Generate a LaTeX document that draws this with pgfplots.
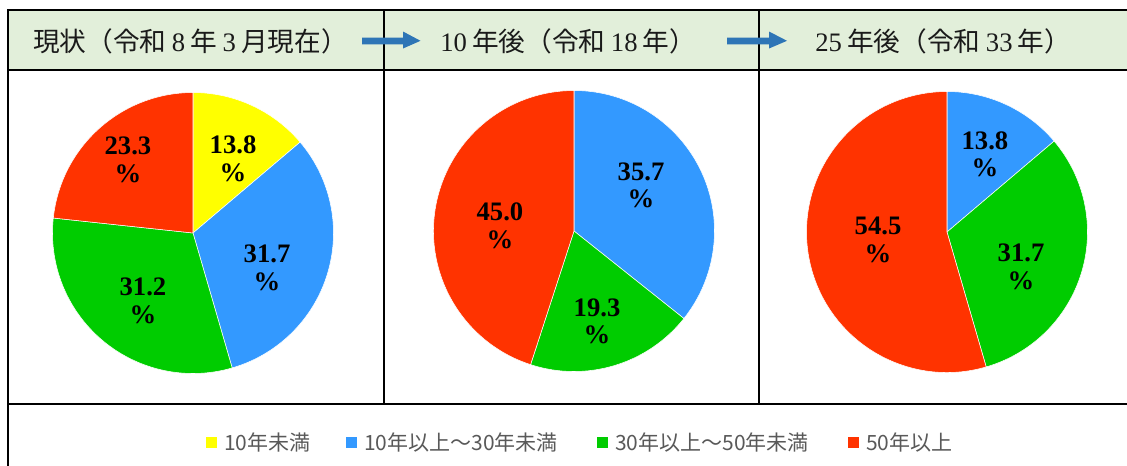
\documentclass[border=0pt]{standalone}
\usepackage{fontspec}
\usepackage{pgfplots}
\pgfplotsset{compat=1.18}
\newfontfamily\cjk{Noto Sans CJK JP}
\newfontfamily\ser{Liberation Serif}
\definecolor{cY}{HTML}{FFFF00}
\definecolor{cB}{HTML}{3399FF}
\definecolor{cG}{HTML}{00CC00}
\definecolor{cR}{HTML}{FF3300}
\definecolor{hdr}{HTML}{E2EFDA}
\definecolor{arr}{HTML}{2E75B6}
\definecolor{leg}{HTML}{595959}
\definecolor{htxt}{HTML}{1A1A1A}

\newlength\pieR \setlength\pieR{105.375pt}% 140.5 px
\tikzset{pielabel/.style={font=\ser\bfseries\fontsize{20}{20.5}\selectfont, align=center, inner sep=0pt, text=black}}
% value / colour / label x / label y
\newcommand\pieslices[1]{%
  \xdef\cumA{90}%
  \foreach \v/\c/\lx/\ly in {#1}{%
    \pgfmathsetmacro\endA{\cumA-3.6*\v}%
    \pgfmathsetmacro\xs{cos(\cumA)}%
    \pgfmathsetmacro\ys{sin(\cumA)}%
    \edef\temp{\noexpand\fill[\c, draw=white, line width=0.4pt] (axis cs:0,0) -- (axis cs:\xs,\ys) arc[start angle=\cumA, end angle=\endA, radius=\the\pieR] -- cycle;}%
    \temp
    \xdef\cumA{\endA}%
  }%
  \foreach \v/\c/\lx/\ly in {#1}{%
    \edef\temp{\noexpand\node[pielabel] at (axis cs:\lx,\ly) {\v\noexpand\\\noexpand\%};}%
    \temp
  }%
}
\pgfplotsset{pieaxis/.style={hide axis, x=\pieR, y=\pieR, xmin=-1.02, xmax=1.02, ymin=-1.02, ymax=1.02, anchor=center, clip=false, scale only axis}}

\begin{document}
\begin{tikzpicture}
\begin{scope}[x=0.75pt,y=-0.75pt]
\useasboundingbox (0,0) rectangle (1127,465);
\fill[hdr] (8,10) rectangle (1128,70);
\draw[line width=1.5pt] (8,10) -- (1128,10);
\draw[line width=1.5pt] (8,70) -- (1128,70);
\draw[line width=1.5pt] (8,404) -- (1128,404);
\draw[line width=1.5pt] (8,9.3) -- (8,467);
\draw[line width=1.5pt] (384,10) -- (384,404);
\draw[line width=1.5pt] (759,10) -- (759,404);
% arrows
\fill[arr] (362,37.5) -- (403,37.5) -- (403,31.5) -- (420.5,40.8) -- (403,48.5) -- (403,44.3) -- (362,44.3) -- cycle;
\fill[arr] (727,37.5) -- (769,37.5) -- (769,31.5) -- (787,40.8) -- (769,48.5) -- (769,44.3) -- (727,44.3) -- cycle;
% header texts
\begin{scope}[every node/.style={anchor=west, inner sep=0pt, text=htxt}]
\node at (33,41) {\fontsize{20}{24}\selectfont{\cjk 現状（令和}\hspace{0.2em}{\ser 8}\hspace{0.2em}{\cjk 年}\hspace{0.2em}{\ser 3}\hspace{0.2em}{\cjk 月現在）}};
\node at (440,41) {\fontsize{20}{24}\selectfont{\ser 10}\hspace{0.2em}{\cjk 年後（令和}\hspace{0.2em}{\ser 18}\hspace{0.2em}{\cjk 年）}};
\node at (815,41) {\fontsize{20}{24}\selectfont{\ser 25}\hspace{0.2em}{\cjk 年後（令和}\hspace{0.2em}{\ser 33}\hspace{0.2em}{\cjk 年）}};
\end{scope}
% legend
\begin{scope}[every node/.style={anchor=west, inner sep=0pt, text=leg, font=\cjk\fontsize{15.75}{18}\selectfont}]
\fill[cY] (206,437) rectangle (217,448);
\node at (224,442.5) {10年未満};
\fill[cB] (346,437) rectangle (357,448);
\node at (364,442.5) {10年以上～30年未満};
\fill[cG] (597,437) rectangle (608,448);
\node at (615,442.5) {30年以上～50年未満};
\fill[cR] (848,437) rectangle (859,448);
\node at (866,442.5) {50年以上};
\end{scope}
\end{scope}

\begin{axis}[pieaxis, at={(193*0.75pt,-233*0.75pt)}]
\pieslices{13.8/cY/0.285/0.527, 31.7/cB/0.527/-0.249, 31.2/cG/-0.356/-0.484, 23.3/cR/-0.463/0.520}
\end{axis}
\begin{axis}[pieaxis, at={(574*0.75pt,-231*0.75pt)}]
\pieslices{35.7/cB/0.477/0.327, 19.3/cG/0.164/-0.641, 45.0/cR/-0.527/0.036}
\end{axis}
\begin{axis}[pieaxis, at={(947*0.75pt,-232*0.75pt)}]
\pieslices{13.8/cB/0.270/0.555, 31.7/cG/0.527/-0.249, 54.5/cR/-0.491/-0.057}
\end{axis}
\end{tikzpicture}
\end{document}
